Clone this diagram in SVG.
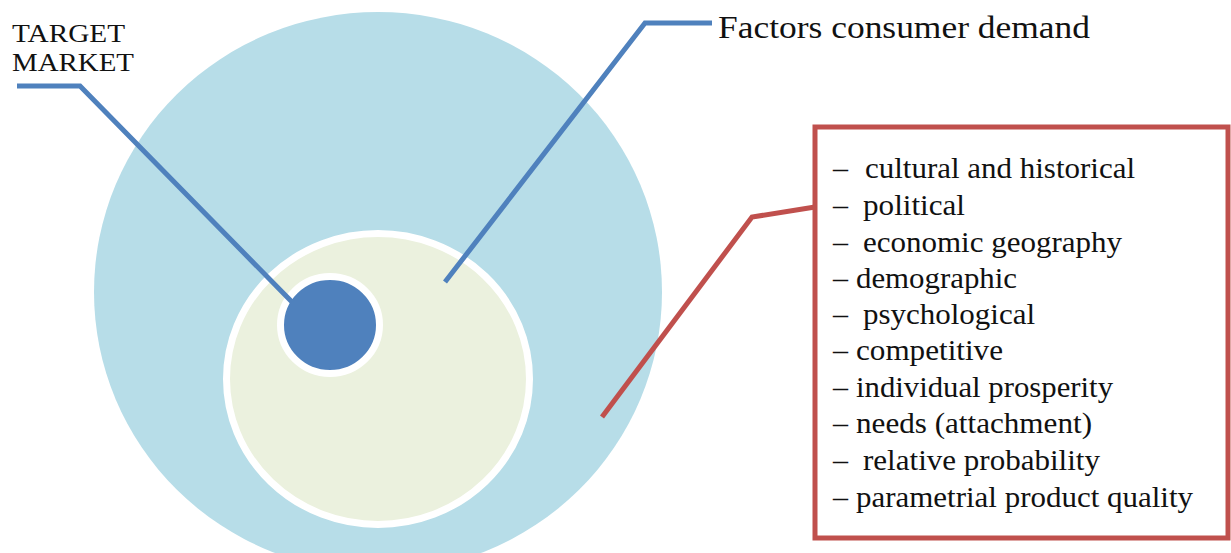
<svg xmlns="http://www.w3.org/2000/svg" width="1231" height="553" viewBox="0 0 1231 553">
  <style>
    .lbl { font-family: "Liberation Serif", "Times New Roman", serif; fill: #111; }
    .item { font-family: "Liberation Serif", "Times New Roman", serif; font-size: 30px; fill: #111; }
    .lead-blue { fill: none; stroke: #4f81bd; stroke-width: 5; stroke-linejoin: miter; }
    .lead-red { fill: none; stroke: #c0504d; stroke-width: 5; stroke-linejoin: miter; }
  </style>

  <rect width="1231" height="553" fill="#ffffff"/>

  <!-- outer ring: consumer demand factors -->
  <g id="outer-circle">
    <ellipse cx="378" cy="292" rx="284" ry="280" fill="#b7dde8"/>
  </g>

  <!-- middle disc -->
  <g id="inner-circle">
    <ellipse cx="378" cy="379" rx="151.5" ry="145.5" fill="#ebf1de" stroke="#ffffff" stroke-width="7"/>
  </g>

  <!-- target market core -->
  <g id="target-circle">
    <ellipse cx="330" cy="325" rx="49.5" ry="48.5" fill="#4f81bd" stroke="#ffffff" stroke-width="7"/>
  </g>

  <!-- leader lines -->
  <g id="connectors">
    <polyline class="lead-blue" points="17,86 80,86 292,302"/>
    <polyline class="lead-blue" points="445,282 645,23 712,23"/>
    <polyline class="lead-red" points="602,417 752,217 815,207"/>
  </g>

  <g id="label-target">
    <text class="lbl" x="12" y="42" font-size="26" textLength="113" lengthAdjust="spacingAndGlyphs">TARGET</text>
    <text class="lbl" x="12" y="71" font-size="26" textLength="122" lengthAdjust="spacingAndGlyphs">MARKET</text>
  </g>

  <g id="label-factors">
    <text class="lbl" x="718" y="38" font-size="32" textLength="372" lengthAdjust="spacingAndGlyphs">Factors consumer demand</text>
  </g>

  <!-- factor list box -->
  <g id="factors-box">
    <rect x="815" y="127" width="413" height="411" fill="#ffffff" stroke="#c0504d" stroke-width="5"/>
    <g class="item">
      <text x="833" y="178">–</text><text x="865" y="178" textLength="270" lengthAdjust="spacingAndGlyphs">cultural and historical</text>
      <text x="833" y="215">–</text><text x="863" y="215" textLength="102" lengthAdjust="spacingAndGlyphs">political</text>
      <text x="833" y="252">–</text><text x="863" y="252" textLength="259" lengthAdjust="spacingAndGlyphs">economic geography</text>
      <text x="833" y="288">–</text><text x="856" y="288" textLength="161" lengthAdjust="spacingAndGlyphs">demographic</text>
      <text x="833" y="324">–</text><text x="863" y="324" textLength="172" lengthAdjust="spacingAndGlyphs">psychological</text>
      <text x="833" y="360">–</text><text x="856" y="360" textLength="147" lengthAdjust="spacingAndGlyphs">competitive</text>
      <text x="833" y="397">–</text><text x="856" y="397" textLength="257" lengthAdjust="spacingAndGlyphs">individual prosperity</text>
      <text x="833" y="433">–</text><text x="856" y="433" textLength="236" lengthAdjust="spacingAndGlyphs">needs (attachment)</text>
      <text x="833" y="470">–</text><text x="863" y="470" textLength="237" lengthAdjust="spacingAndGlyphs">relative probability</text>
      <text x="833" y="507">–</text><text x="856" y="507" textLength="337" lengthAdjust="spacingAndGlyphs">parametrial product quality</text>
    </g>
  </g>
</svg>
